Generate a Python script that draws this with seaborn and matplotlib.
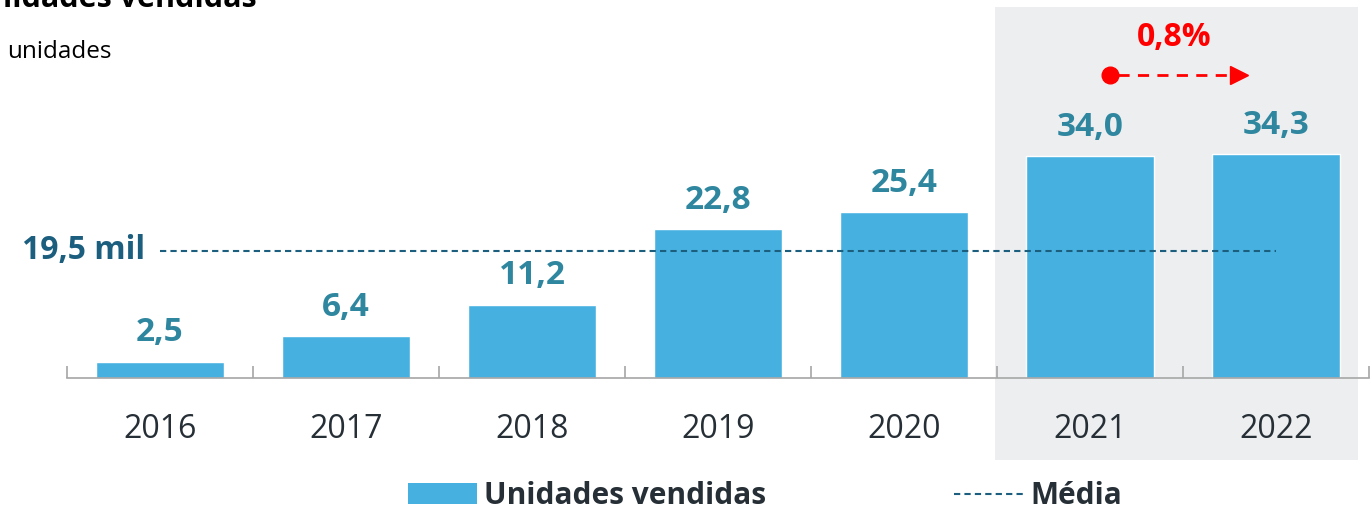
import numpy as np
import matplotlib
matplotlib.use("Agg")
import matplotlib.pyplot as plt
import seaborn as sns
from matplotlib.patches import Rectangle
from matplotlib.lines import Line2D
from matplotlib.ticker import FixedLocator

# Dados
anos = ["2016", "2017", "2018", "2019", "2020", "2021", "2022"]
unidades = [2.5, 6.4, 11.2, 22.8, 25.4, 34.0, 34.3]
media = 19.5
variacao = "0,8%"

azul = "#46B1E0"
teal = "#2F869F"
escuro = "#262F36"

sns.set_theme(style="white")
plt.rcParams["font.family"] = ["Open Sans", "DejaVu Sans"]

fig = plt.figure(figsize=(13.7, 5.19), dpi=100)
ax = fig.add_axes([67 / 1370, 141 / 519, 1302 / 1370, 378 / 519])
ax.set_facecolor("none")

sns.barplot(x=anos, y=unidades, color=azul, saturation=1, width=0.69, ax=ax, zorder=2)
ax.set_xlim(-0.5, 6.5)
ax.set_ylim(0, 57.9)

# area destacada 2021-2022
ax.add_patch(Rectangle((4.49, -12.56), 1.95, 69.4, facecolor="#EDEEF0",
                       edgecolor="none", zorder=0, clip_on=False))

# rotulos das barras
rotulos = [f"{v:.1f}".replace(".", ",") for v in unidades]
ax.bar_label(ax.containers[0], labels=rotulos, padding=9, fontsize=24,
             fontweight="bold", color=teal)

# linha da media
ax.plot([0, 6], [media, media], color="#1B5E7E", lw=1.5,
        linestyle=(0, (3, 2)), zorder=3)
ax.text(-0.08, media, "19,5 mil", ha="right", va="center", fontsize=23,
        fontweight="bold", color="#1B5E7E")

# variacao 2021 -> 2022
ax.plot([5.15, 5.76], [46.4, 46.4], color="red", lw=2, linestyle=(0, (4, 3)))
ax.plot([5.11], [46.4], marker="o", color="red", markersize=12)
ax.plot([5.80], [46.4], marker=">", color="red", markersize=13)
ax.text(5.45, 52.1, variacao, ha="center", va="center", fontsize=23,
        fontweight="bold", color="red")

# eixos
for s in ["top", "right", "left"]:
    ax.spines[s].set_visible(False)
ax.spines["bottom"].set_color("#A6A6A6")
ax.spines["bottom"].set_linewidth(1.2)
ax.set_yticks([])
ax.xaxis.set_minor_locator(FixedLocator(np.arange(-0.5, 7, 1)))
ax.tick_params(axis="x", which="major", length=0, pad=25, labelsize=23,
               labelcolor=escuro)
ax.tick_params(axis="x", which="minor", direction="in", length=9,
               width=1.2, color="#A6A6A6", bottom=True)

# titulos
fig.text(257 / 1370, 1 - 7 / 519, "Unidades vendidas", ha="right", va="baseline",
         fontsize=22, fontweight="bold", color="black")
fig.text(7 / 1370, 1 - 52 / 519, "unidades", ha="left", va="center",
         fontsize=17.5, color="black")

# legenda
h_bar = Rectangle((0, 0), 1, 1, facecolor=azul, edgecolor="none")
h_lin = Line2D([], [], color="#1B5E7E", lw=1.5, linestyle=(0, (3, 2)))
leg = fig.legend([h_bar, h_lin], ["Unidades vendidas", "Média"], ncol=2,
                 loc="center", bbox_to_anchor=(765 / 1370, 1 - 496 / 519),
                 frameon=False, prop={"size": 21.5, "weight": "bold"},
                 handlelength=2.3, handleheight=0.7, handletextpad=0.25,
                 columnspacing=6.3, borderpad=0, borderaxespad=0)
for t in leg.get_texts():
    t.set_color(escuro)

fig.savefig("out.png", dpi=100)
